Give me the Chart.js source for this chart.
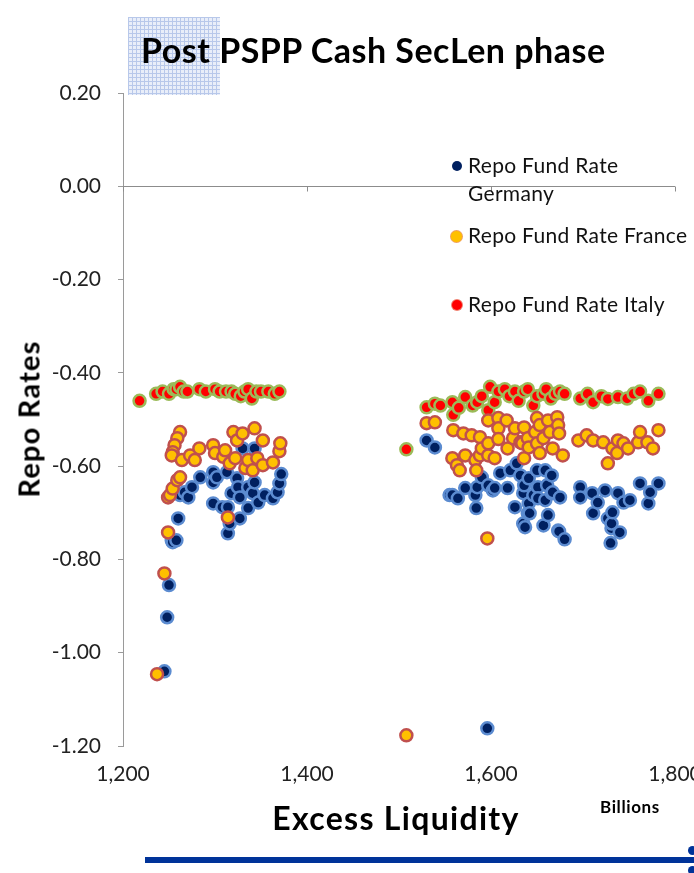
<!DOCTYPE html>
<html>
<head>
<meta charset="utf-8">
<script src="https://cdn.jsdelivr.net/npm/chart.js@4.4.1/dist/chart.umd.min.js"></script>
<style>
  html, body { margin: 0; padding: 0; background: #ffffff; }
  #wrap { position: relative; width: 694px; height: 873px; overflow: hidden; font-family: Lato, "Open Sans", sans-serif; }
  #c { position: absolute; left: 0; top: 0; }
  .abs { position: absolute; white-space: nowrap; color: #000; }
  #checker { position: absolute; left: 128px; top: 17px; width: 92px; height: 78px;
    background-color: #e9eef9;
    background-image: linear-gradient(#b8c8ea 1px, transparent 1px), linear-gradient(90deg, #b8c8ea 1px, transparent 1px);
    background-size: 4px 4px; }
  #title { left: 141px; top: 29px; font-size: 34px; font-weight: 700; letter-spacing: 0.5px; }
  #ytitle { left: 28px; top: 419px; font-size: 29px; font-weight: 700; letter-spacing: 1.2px; transform: translate(-50%, -50%) rotate(-90deg); }
  #xtitle { left: 396px; top: 817px; font-size: 32px; font-weight: 700; letter-spacing: 1.3px; transform: translate(-50%, -50%); }
  #billions { left: 600px; top: 796px; font-size: 17px; font-weight: 700; letter-spacing: 0.6px; }
  .leg { position: absolute; font-size: 21px; line-height: 28px; color: #111; letter-spacing: 0.3px; }
  .dot { position: absolute; border-radius: 50%; }
  #bar { position: absolute; left: 145px; top: 857px; width: 560px; height: 6px; background: #003399; }
</style>
</head>
<body>
<div id="wrap">
  <div id="checker"></div>
  <canvas id="c" width="694" height="873"></canvas>
  <div id="title" class="abs">Post PSPP Cash SecLen phase</div>
  <div id="ytitle" class="abs">Repo Rates</div>
  <div id="xtitle" class="abs">Excess Liquidity</div>
  <div id="billions" class="abs">Billions</div>
  <div class="dot" style="left:452px;top:161px;width:10px;height:10px;background:#002060;"></div>
  <div class="leg" style="left:468px;top:151px;">Repo Fund Rate<br>Germany</div>
  <div class="dot" style="left:451px;top:231px;width:11px;height:11px;background:#FFC000;box-shadow:0 0 0 1px #f0a060;"></div>
  <div class="leg" style="left:468px;top:221px;">Repo Fund Rate France</div>
  <div class="dot" style="left:452px;top:300px;width:10px;height:10px;background:#FF0000;box-shadow:0 0 0 1px #f08070;"></div>
  <div class="leg" style="left:468px;top:290px;">Repo Fund Rate Italy</div>
  <div id="bar"></div>
  <div class="dot" style="left:688px;top:846px;width:9px;height:9px;background:#003399;"></div>
  <div class="dot" style="left:688px;top:866px;width:9px;height:9px;background:#003399;"></div>
</div>
<script>
// ---- Data ----
const xTicks = [1200, 1400, 1600, 1800];
const yTicks = [0.20, 0.00, -0.20, -0.40, -0.60, -0.80, -1.00, -1.20];

const seriesNames = ["Repo Fund Rate Germany", "Repo Fund Rate France", "Repo Fund Rate Italy"];

const germanyX = [1245,1248,1250,1253,1254,1258,1260,1262,1267,1271,1275,1284,1298,1298,1302,1298,1308,1313,1314,1314,1316,1318,1324,1325,1327,1327,1330,1336,1336,1341,1343,1343,1347,1354,1363,1368,1370,1372,
  1530,1539,1555,1558,1564,1572,1583,1584,1585,1590,1597,1602,1604,1610,1618,1621,1626,1628,1632,1635,1635,1636,1637,1640,1641,1641,1642,1646,1650,1651,1651,1657,1659,1659,1661,1662,1666,1666,1667,1673,1674,1675,1680,
  1697,1697,1710,1711,1716,1724,1727,1730,1731,1731,1732,1738,1740,1744,1751,1762,1771,1773,1782,1596];
const germanyY = [-1.04,-0.924,-0.855,-0.759,-0.763,-0.759,-0.712,-0.662,-0.656,-0.667,-0.645,-0.624,-0.613,-0.635,-0.624,-0.68,-0.688,-0.613,-0.688,-0.744,-0.723,-0.658,-0.626,-0.645,-0.667,-0.712,-0.562,-0.645,-0.69,-0.658,-0.635,-0.562,-0.678,-0.662,-0.669,-0.656,-0.637,-0.617,
  -0.545,-0.56,-0.662,-0.662,-0.669,-0.647,-0.662,-0.69,-0.645,-0.624,-0.641,-0.652,-0.647,-0.615,-0.647,-0.609,-0.688,-0.594,-0.62,-0.723,-0.658,-0.641,-0.731,-0.701,-0.626,-0.68,-0.701,-0.662,-0.609,-0.645,-0.669,-0.727,-0.609,-0.673,-0.641,-0.705,-0.62,-0.658,-0.656,-0.738,-0.74,-0.667,-0.757,
  -0.645,-0.667,-0.658,-0.701,-0.678,-0.652,-0.712,-0.765,-0.733,-0.723,-0.699,-0.658,-0.742,-0.678,-0.673,-0.637,-0.68,-0.656,-0.637,-1.162];

const franceX = [1237,1245,1249,1249,1251,1254,1259,1262,1262,1259,1256,1254,1253,1264,1273,1278,1283,1298,1300,1309,1311,1314,1316,1320,1322,1324,1330,1333,1336,1341,1343,1346,1352,1352,1363,1370,1371,
  1508,1530,1539,1558,1559,1563,1566,1570,1572,1579,1583,1584,1588,1588,1590,1596,1597,1597,1597,1604,1608,1608,1608,1617,1618,1624,1626,1632,1634,1636,1636,1640,1641,1648,1650,1650,1653,1653,1657,1662,1664,1667,1672,1673,1674,1678,
  1695,1704,1711,1722,1727,1732,1737,1738,1744,1749,1760,1762,1770,1776,1782];
const franceY = [-1.046,-0.83,-0.742,-0.667,-0.662,-0.648,-0.63,-0.624,-0.527,-0.54,-0.555,-0.57,-0.577,-0.587,-0.577,-0.587,-0.562,-0.555,-0.572,-0.58,-0.566,-0.71,-0.594,-0.527,-0.583,-0.545,-0.53,-0.604,-0.587,-0.609,-0.519,-0.583,-0.545,-0.598,-0.592,-0.568,-0.551,
  -1.177,-0.508,-0.506,-0.583,-0.523,-0.598,-0.609,-0.53,-0.577,-0.534,-0.587,-0.609,-0.538,-0.577,-0.562,-0.755,-0.502,-0.551,-0.577,-0.583,-0.497,-0.519,-0.542,-0.502,-0.562,-0.54,-0.519,-0.549,-0.551,-0.517,-0.583,-0.54,-0.56,-0.527,-0.497,-0.551,-0.512,-0.572,-0.54,-0.502,-0.527,-0.562,-0.495,-0.512,-0.53,-0.577,
  -0.545,-0.534,-0.545,-0.549,-0.594,-0.562,-0.572,-0.545,-0.551,-0.562,-0.549,-0.527,-0.549,-0.562,-0.523];

const italyX = [1218,1236,1243,1250,1255,1258,1262,1266,1270,1283,1290,1300,1305,1312,1318,1322,1328,1332,1336,1340,1345,1350,1358,1365,1370,
  1508,1530,1539,1545,1558,1559,1565,1572,1580,1585,1590,1597,1599,1604,1608,1615,1620,1626,1630,1636,1640,1646,1650,1657,1660,1665,1670,1675,1680,1697,1705,1711,1720,1727,1738,1748,1755,1762,1771,1782];
const italyY = [-0.46,-0.445,-0.44,-0.445,-0.435,-0.435,-0.43,-0.44,-0.44,-0.435,-0.44,-0.435,-0.44,-0.44,-0.44,-0.445,-0.45,-0.44,-0.435,-0.455,-0.44,-0.44,-0.44,-0.445,-0.44,
  -0.564,-0.474,-0.466,-0.47,-0.463,-0.49,-0.475,-0.452,-0.47,-0.463,-0.45,-0.48,-0.43,-0.463,-0.44,-0.435,-0.45,-0.44,-0.46,-0.44,-0.435,-0.47,-0.45,-0.445,-0.435,-0.455,-0.445,-0.44,-0.445,-0.455,-0.445,-0.463,-0.45,-0.456,-0.452,-0.455,-0.445,-0.44,-0.46,-0.445];

const toPts = (xs, ys) => xs.map((x, i) => ({ x: x, y: ys[i] }));

const zeroLine = {
  id: 'zeroLine',
  beforeDatasetsDraw(chart) {
    const xs = chart.scales.x, ys = chart.scales.y, ctx = chart.ctx;
    const y0 = Math.round(ys.getPixelForValue(0)) + 0.5;
    ctx.save();
    ctx.strokeStyle = '#8c8c8c';
    ctx.lineWidth = 1;
    ctx.beginPath();
    ctx.moveTo(xs.getPixelForValue(xTicks[0]), y0);
    ctx.lineTo(xs.getPixelForValue(xTicks[xTicks.length - 1]), y0);
    xTicks.forEach(t => {
      const px = Math.round(xs.getPixelForValue(t)) + 0.5;
      ctx.moveTo(px, y0);
      ctx.lineTo(px, y0 + 5);
    });
    ctx.stroke();
    ctx.restore();
  }
};

new Chart(document.getElementById('c'), {
  type: 'scatter',
  data: {
    datasets: [
      { label: seriesNames[1], data: toPts(franceX, franceY), backgroundColor: '#FFC000', borderColor: '#C0504D', order: 0 },
      { label: seriesNames[0], data: toPts(germanyX, germanyY), backgroundColor: '#002060', borderColor: '#5B8BD0', order: 1 },
      { label: seriesNames[2], data: toPts(italyX, italyY), backgroundColor: '#FF0000', borderColor: '#9BBB59', order: 2 }
    ]
  },
  options: {
    responsive: false,
    devicePixelRatio: 1,
    animation: false,
    layout: { padding: { left: 0, top: 93, right: 19, bottom: 0 } },
    elements: { point: { radius: 6, borderWidth: 2.5, hoverRadius: 6 } },
    plugins: { legend: { display: false }, tooltip: { enabled: false } },
    scales: {
      x: {
        type: 'linear', min: 1200, max: 1800,
        afterBuildTicks: s => { s.ticks = xTicks.map(v => ({ value: v })); },
        afterFit: s => { s.height = 127; s.paddingLeft = 0; s.paddingRight = 0; },
        grid: { display: false, drawTicks: false },
        border: { display: false },
        ticks: { padding: 16, color: '#222', font: { family: 'Lato', size: 21 },
          callback: v => v.toLocaleString('en-US') }
      },
      y: {
        type: 'linear', min: -1.2, max: 0.2,
        afterBuildTicks: s => { s.ticks = yTicks.map(v => ({ value: v })); },
        afterFit: s => { s.width = 123; },
        grid: { drawOnChartArea: false, drawTicks: true, tickLength: 5, color: '#9a9a9a' },
        border: { display: true, color: '#9a9a9a', width: 1 },
        ticks: { padding: 17, color: '#222', font: { family: 'Lato', size: 21 },
          callback: v => v.toFixed(2) }
      }
    }
  },
  plugins: [zeroLine]
});
</script>
</body>
</html>
